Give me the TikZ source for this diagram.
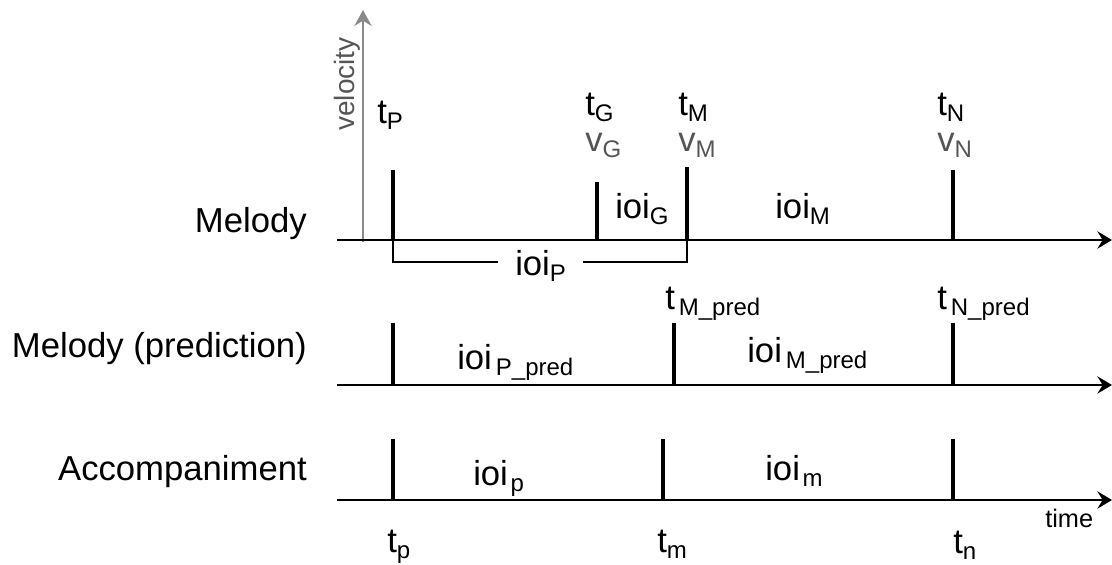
\documentclass[tikz,border=0pt]{standalone}
\usepackage{fontspec}
\setmainfont{Liberation Sans}
\usetikzlibrary{arrows.meta}
\newcommand\lbl[3][0pt]{#2\hspace{#1}\raisebox{-4.5pt}{\fontsize{18}{21}\selectfont #3}}
\definecolor{axisgray}{HTML}{8A8A8A}
\definecolor{textgray}{HTML}{555555}
\tikzset{
  txt/.style={font=\fontsize{26}{30}\selectfont, inner sep=0pt, anchor=base west},
  rowlabel/.style={txt, anchor=base east},
  graytxt/.style={txt, text=textgray},
  smalltxt/.style={font=\fontsize{19}{22}\selectfont, inner sep=0pt, anchor=base west},
  tickbar/.style={line width=3.6pt},
  timeaxis/.style={line width=1.5pt, -{Stealth[length=11pt,width=13pt,inset=4pt]}},
  velaxis/.style={line width=1.3pt, axisgray, -{Stealth[length=12pt,width=13pt,inset=4pt]}},
  bracket/.style={line width=1.1pt},
}
\begin{document}
\begin{tikzpicture}[x=0.75pt,y=-0.75pt]
\useasboundingbox (0,0) rectangle (1112,564);

% axis coordinates
\coordinate (m0) at (337,240);  \coordinate (m1) at (1112,240);
\coordinate (p0) at (337,385);  \coordinate (p1) at (1112,385);
\coordinate (a0) at (337,500);  \coordinate (a1) at (1112,500);
\coordinate (v0) at (363,242);  \coordinate (v1) at (363,10);

% row labels
\node[rowlabel] (lmel) at (307,232) {Melody};
\node[rowlabel] (lpred) at (307,357) {Melody (prediction)};
\node[rowlabel] (lacc) at (307,480) {Accompaniment};

% axes
\draw[velaxis] (v0) -- (v1);
\node[smalltxt, text=textgray, font=\fontsize{21}{24}\selectfont, rotate=90] (vel) at (354,131) {velocity};
\draw[timeaxis] (m0) -- (m1);
\draw[timeaxis] (p0) -- (p1);
\draw[timeaxis] (a0) -- (a1);

% melody ticks
\coordinate (mP) at (393,240);
\coordinate (mG) at (597,240);
\coordinate (mM) at (687,240);
\coordinate (mN) at (953,240);
\draw[tickbar] (mP) -- ++(0,-70);
\draw[tickbar] (mG) -- ++(0,-58);
\draw[tickbar] (mM) -- ++(0,-73);
\draw[tickbar] (mN) -- ++(0,-70);

% prediction ticks
\coordinate (pP) at (393,385);
\coordinate (pM) at (674,385);
\coordinate (pN) at (953,385);
\draw[tickbar] (pP) -- ++(0,-62);
\draw[tickbar] (pM) -- ++(0,-62);
\draw[tickbar] (pN) -- ++(0,-62);

% accompaniment ticks
\coordinate (aP) at (393,500);
\coordinate (aM) at (663,500);
\coordinate (aN) at (953,500);
\draw[tickbar] (aP) -- ++(0,-61);
\draw[tickbar] (aM) -- ++(0,-61);
\draw[tickbar] (aN) -- ++(0,-61);

% melody labels
\node[txt] (ltP) at (377,123) {\lbl{t}{P}};
\node[txt] (ltG) at (585,115) {\lbl{t}{G}};
\node[graytxt] (lvG) at (585,151) {\lbl{v}{G}};
\node[txt] (ltM) at (678,115) {\lbl{t}{M}};
\node[graytxt] (lvM) at (678,151) {\lbl{v}{M}};
\node[txt] (ltN) at (937,115) {\lbl{t}{N}};
\node[graytxt] (lvN) at (937,151) {\lbl{v}{N}};
\node[txt] (lioiG) at (615,218) {\lbl{ioi}{G}};
\node[txt] (lioiM) at (775,218) {\lbl{ioi}{M}};

% ioi_P bracket
\node[txt] (lioiP) at (515,275) {\lbl{ioi}{P}};
\coordinate (bl) at (498,262);
\coordinate (br) at (583,262);
\draw[bracket] (mP) |- (bl);
\draw[bracket] (br) -| (mM);

% prediction labels
\node[txt] (ltMp) at (665,309) {\lbl[3pt]{t}{M\_pred}};
\node[txt] (ltNp) at (937,309) {\lbl[3pt]{t}{N\_pred}};
\node[txt] (lioiPp) at (457,369) {\lbl[3pt]{ioi}{P\_pred}};
\node[txt] (lioiMp) at (747,362) {\lbl[3pt]{ioi}{M\_pred}};

% accompaniment labels
\node[txt] (lioip) at (473,485) {\lbl[2pt]{ioi}{p}};
\node[txt] (lioim) at (765,480) {\lbl[2pt]{ioi}{m}};
\node[txt] (ltp) at (387,552) {\lbl{t}{p}};
\node[txt] (ltm) at (657,552) {\lbl{t}{m}};
\node[txt] (ltn) at (953,553) {\lbl{t}{n}};
\node[smalltxt] (ltime) at (1045,527) {time};
\end{tikzpicture}
\end{document}
